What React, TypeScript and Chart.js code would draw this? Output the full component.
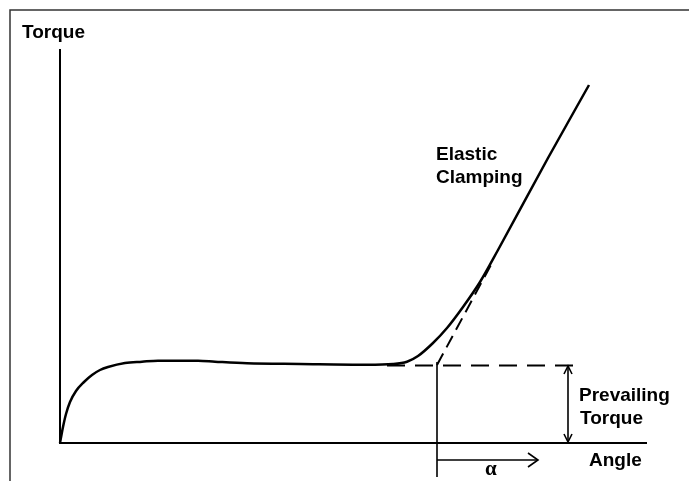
import React, { useEffect, useRef } from "react";
import { Chart, registerables } from "chart.js";

Chart.register(...registerables);

// Torque-angle curve (x: angle units, y: torque units)
const curveX = [0, 3, 6, 10, 16, 24, 32, 40, 48, 65, 82, 98, 138, 155, 187, 240, 307, 333, 347, 358, 373, 387, 403, 420, 438, 488, 529];
const curveY = [0, 16, 29, 41, 52, 61, 68, 73, 76, 80, 81.3, 82.3, 82.3, 81.3, 79.7, 79, 78.3, 79, 81.3, 87, 100, 115, 136, 161, 193, 285, 358];

// Prevailing torque level (dashed)
const prevailX = [327, 515];
const prevailY = [77.5, 77.5];

// Elastic line extension (dashed)
const tangentX = [377, 432];
const tangentY = [78, 180];

// Alpha marker
const alphaLineX = [377, 377];
const alphaLineY = [81, -34];
const alphaShaftX = [377, 478];
const alphaShaftY = [-17, -17];
const alphaHeadX = [468, 478, 468];
const alphaHeadY = [-10, -17, -24];

// Prevailing torque double arrow
const ptShaftX = [508, 508];
const ptShaftY = [2, 77];
const ptTopHeadX = [504, 508, 512];
const ptTopHeadY = [69, 77, 69];
const ptBottomHeadX = [504, 508, 512];
const ptBottomHeadY = [9, 1, 9];

// Axes and frame
const axesX = [0, 0, 587];
const axesY = [394, 0, 0];
const frameX = [-50, -50, 629];
const frameY = [-38, 433, 433];

// Text labels
const labelTexts = ["Torque", "Elastic", "Clamping", "Prevailing", "Torque", "Angle", "α"];
const labelX = [-38, 376, 376, 519, 520, 529, 425];
const labelY = [405.5, 283, 260, 42, 19, -22.5, -32];

const toPts = (xs: number[], ys: number[]) => xs.map((x, i) => ({ x, y: ys[i] }));

export default function App() {
  const canvasRef = useRef<HTMLCanvasElement | null>(null);

  useEffect(() => {
    document.body.style.margin = "0";
    const canvas = canvasRef.current;
    if (!canvas) return;

    const line = (xs: number[], ys: number[], width: number, extra: any = {}) => ({
      data: toPts(xs, ys),
      showLine: true,
      borderColor: "#000",
      borderWidth: width,
      pointRadius: 0,
      fill: false,
      clip: false as any,
      ...extra,
    });

    const textPlugin = {
      id: "texts",
      afterDatasetsDraw(chart: any) {
        const { ctx, scales } = chart;
        ctx.save();
        ctx.fillStyle = "#000";
        ctx.textBaseline = "alphabetic";
        ctx.textAlign = "left";
        labelTexts.forEach((t, i) => {
          const px = scales.x.getPixelForValue(labelX[i]);
          const py = scales.y.getPixelForValue(labelY[i]);
          ctx.font = t === "α"
            ? 'bold 21px "Liberation Serif", serif'
            : 'bold 19px "Liberation Sans", Arial, sans-serif';
          ctx.fillText(t, px, py);
        });
        ctx.restore();
      },
    };

    const chart = new Chart(canvas, {
      type: "scatter",
      data: {
        datasets: [
          line(frameX, frameY, 1.5, { borderColor: "#333" }),
          line(axesX, axesY, 2),
          line(prevailX, prevailY, 2, { borderDash: [18, 10] }),
          line(tangentX, tangentY, 2, { borderDash: [13, 7] }),
          line(curveX, curveY, 2.5, { cubicInterpolationMode: "monotone" }),
          line(alphaLineX, alphaLineY, 1.6),
          line(alphaShaftX, alphaShaftY, 1.6),
          line(alphaHeadX, alphaHeadY, 1.6),
          line(ptShaftX, ptShaftY, 1.6),
          line(ptTopHeadX, ptTopHeadY, 1.6),
          line(ptBottomHeadX, ptBottomHeadY, 1.6),
        ] as any,
      },
      options: {
        responsive: false,
        animation: false,
        devicePixelRatio: 1,
        layout: { padding: 0 },
        plugins: { legend: { display: false }, tooltip: { enabled: false } },
        events: [],
        scales: {
          x: { type: "linear", min: -60, max: 629, display: false },
          y: { type: "linear", min: -38, max: 443, display: false },
        },
      },
      plugins: [textPlugin],
    });

    return () => chart.destroy();
  }, []);

  return (
    <div style={{ width: 689, height: 481, background: "#fff" }}>
      <canvas ref={canvasRef} width={689} height={481} style={{ display: "block" }} />
    </div>
  );
}
